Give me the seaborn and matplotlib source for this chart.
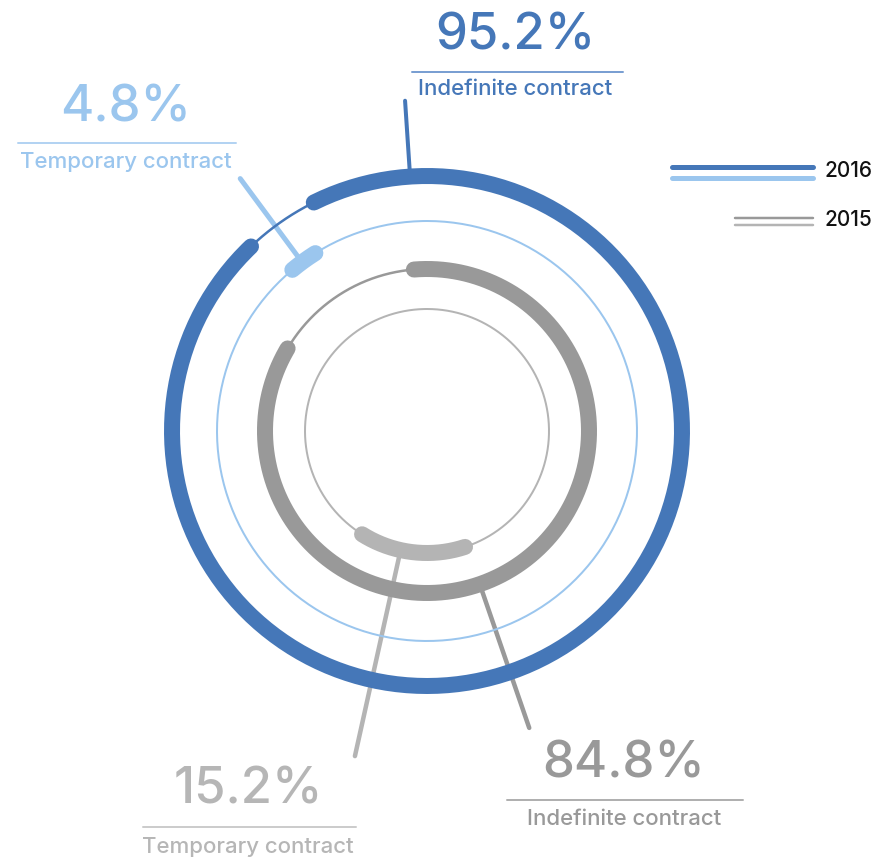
import numpy as np
import pandas as pd
import matplotlib
matplotlib.use('Agg')
import matplotlib.pyplot as plt
import seaborn as sns

sns.set_theme(style='white')
plt.rcParams['font.family'] = ['Inter', 'DejaVu Sans']

# data
years = ["2016", "2015"]
indefinite_pct = [95.2, 84.8]
temporary_pct = [4.8, 15.2]
indefinite_label = "Indefinite contract"
temporary_label = "Temporary contract"

# colours per year: (indefinite, temporary)
ring_colors = {"2016": ("#4577b8", "#9bc6ee"), "2015": ("#999999", "#b4b4b4")}
text_colors = {"2016": ("#4577b8", "#9bc6ee"), "2015": ("#999999", "#b6b6b6")}
rule_colors = {"2016": ("#7a9fd2", "#b3d3f2"), "2015": ("#b0b0b0", "#cccccc")}

# ring geometry (pixels, degrees clockwise from top)
r_indef = {"2016": 255, "2015": 162}
r_temp = {"2016": 210, "2015": 122}
gap_center = {"2016": 325, "2015": 328}
temp_center = {"2016": 324, "2015": 187}
temp_scale = {"2016": 0.45, "2015": 0.92}
THICK = 16
THIN = 2
PX = 0.72  # px -> pt at dpi 100

fig = plt.figure(figsize=(8.92, 8.59), dpi=100)
over = fig.add_axes([0, 0, 1, 1])
over.set_xlim(0, 892)
over.set_ylim(859, 0)
over.axis('off')

cx, cy, rmax = 427, 431, 350
pol = fig.add_axes([(cx - rmax) / 892, (859 - cy - rmax) / 859, 2 * rmax / 892, 2 * rmax / 859],
                   projection='polar')
pol.set_theta_zero_location('N')
pol.set_theta_direction(-1)
pol.patch.set_alpha(0)


def arc(start, end, r, color, width):
    th = np.radians(np.linspace(start, end, 300))
    df = pd.DataFrame({'theta': th, 'r': np.full_like(th, r)})
    sns.lineplot(data=df, x='theta', y='r', ax=pol, color=color, linewidth=width * PX,
                 solid_capstyle='round', estimator=None, sort=False)


for y, ind, tmp in zip(years, indefinite_pct, temporary_pct):
    c_ind, c_tmp = ring_colors[y]
    half_gap = tmp * 3.6 / 2
    g = gap_center[y]
    # thin track for temporary share
    arc(0, 360, r_temp[y], c_tmp, THIN)
    # thin connector across the gap of the indefinite ring
    arc(g - half_gap, g + half_gap, r_indef[y], c_ind, 2.5)
    # indefinite share
    arc(g + half_gap, g + half_gap + ind * 3.6, r_indef[y], c_ind, THICK)
    # temporary share marker
    span = tmp * 3.6 * temp_scale[y]
    arc(temp_center[y] - span / 2, temp_center[y] + span / 2, r_temp[y], c_tmp, THICK)

# leader lines (angle, r0, r1, colour, width px)
leaders = [(-3.8, 255, 331, ring_colors["2016"][0], 4),
           (-36.5, 212, 314, ring_colors["2016"][1], 5),
           (161, 162, 314, ring_colors["2015"][0], 4.5),
           (192.5, 122, 333, ring_colors["2015"][1], 4.5)]
for ang, r0, r1, col, w in leaders:
    pol.plot([np.radians(ang)] * 2, [r0, r1], color=col, linewidth=w * PX,
             solid_capstyle='round', zorder=1)

pol.set_ylim(0, rmax)
pol.axis('off')

# value labels: (value, label, colour, rule colour, x centre, value baseline, rule y, rule x0, x1, label baseline)
blocks = [
    (f"{indefinite_pct[0]}%", indefinite_label, text_colors["2016"][0], rule_colors["2016"][0],
     515, 50, 72, 412, 623, 95),
    (f"{temporary_pct[0]}%", temporary_label, text_colors["2016"][1], rule_colors["2016"][1],
     126, 122, 143, 18, 236, 168),
    (f"{indefinite_pct[1]}%", indefinite_label, text_colors["2015"][0], rule_colors["2015"][0],
     624, 777, 800, 507, 743, 825),
    (f"{temporary_pct[1]}%", temporary_label, text_colors["2015"][1], rule_colors["2015"][1],
     248, 803, 827, 143, 356, 853),
]
for val, lab, col, rcol, x, yb, ry, x0, x1, lb in blocks:
    over.text(x, yb, val, color=col, fontsize=36.5, ha='center', va='baseline', fontweight='medium')
    over.plot([x0, x1], [ry, ry], color=rcol, linewidth=2 * PX)
    over.text(x, lb, lab, color=col, fontsize=16, ha='center', va='baseline', fontweight='medium')

# legend
over.plot([672, 813], [167, 167], color=ring_colors["2016"][0], linewidth=5 * PX, solid_capstyle='round')
over.plot([672, 813], [178, 178], color=ring_colors["2016"][1], linewidth=5 * PX, solid_capstyle='round')
over.plot([735, 813], [218, 218], color=ring_colors["2015"][0], linewidth=2.5 * PX, solid_capstyle='round')
over.plot([735, 813], [225, 225], color=ring_colors["2015"][1], linewidth=2.5 * PX, solid_capstyle='round')
over.text(825, 177, years[0], color='#111111', fontsize=15, va='baseline', fontweight='medium')
over.text(825, 226, years[1], color='#111111', fontsize=15, va='baseline', fontweight='medium')

fig.savefig('out.png', dpi=100)
